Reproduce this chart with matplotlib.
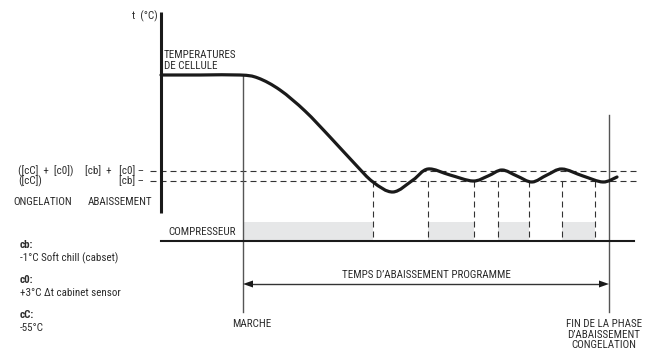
import numpy as np
import matplotlib.pyplot as plt
from matplotlib.path import Path
from matplotlib.patches import PathPatch, Rectangle

plt.rcParams['font.family'] = ['Roboto Condensed', 'DejaVu Sans']

# diagram coordinates are in pixels (x right, y down)
curve_x = [161, 200, 240, 258, 280, 305, 330, 355, 373, 393, 413, 428,
           450, 473, 488, 502, 517, 532, 547, 562, 583, 603, 617]
curve_y = [75, 75, 75, 78, 90, 111, 137, 164, 182, 192, 180, 169,
           175, 181, 176, 170, 176, 182, 175, 169, 176, 182, 177]
compressor_on = [(243, 373), (428, 474), (498, 529), (562, 595)]
switch_x = [373, 428, 474, 498, 529, 562, 595]
upper_y, lower_y = 171, 181
start_x, end_x = 243, 609

notes = [('cb:', '-1°C Soft chill (cabset)'),
         ('c0:', '+3°C \u0394t cabinet sensor'),
         ('cC:', '-55°C')]

TXT = '#2b2b2b'
FS = 7.9

fig = plt.figure(figsize=(6.55, 3.49), dpi=100)
ax = fig.add_axes([0, 0, 1, 1])
ax.set_xlim(0, 655)
ax.set_ylim(349, 0)
ax.axis('off')

# smooth curve through key points (catmull-rom -> bezier)
pts = np.column_stack([curve_x, curve_y]).astype(float)
verts = [pts[0]]
codes = [Path.MOVETO]
for i in range(len(pts) - 1):
    p0 = pts[i - 1] if i > 0 else pts[i]
    p1, p2 = pts[i], pts[i + 1]
    p3 = pts[i + 2] if i + 2 < len(pts) else pts[i + 1]
    verts += [p1 + (p2 - p0) / 6, p2 - (p3 - p1) / 6, p2]
    codes += [Path.CURVE4] * 3
ax.add_patch(PathPatch(Path(verts, codes), fill=False, lw=2.3, color='#1a1a1a', capstyle='round', zorder=5))

# compressor boxes
for a, b in compressor_on:
    ax.add_patch(Rectangle((a, 222), b - a, 18, color='#e6e7e8', lw=0, zorder=1))

# dashed set-point lines
dash = (0, (5.4, 3.6))
for y in (upper_y, lower_y):
    ax.plot([150, 636], [y, y], color='#333333', lw=0.8, linestyle=dash, zorder=2)
for x in switch_x:
    ax.plot([x, x], [lower_y, 240], color='#333333', lw=0.8, linestyle=dash, zorder=2)

# temperature axis and compressor baseline
ax.plot([161, 161], [12, 213], color='#1a1a1a', lw=2.2, solid_capstyle='butt', zorder=6)
ax.plot([161, 634], [241, 241], color='#1a1a1a', lw=1.5, zorder=6)

# start / end verticals
ax.plot([start_x, start_x], [75, 312], color='#555555', lw=1.0, zorder=3)
ax.plot([end_x, end_x], [115, 312], color='#555555', lw=1.0, zorder=3)

# programmed time arrow
ax.plot([start_x + 8, end_x - 8], [284, 284], color='#333333', lw=1.0)
for tip, sgn in ((start_x, 1), (end_x, -1)):
    ax.fill([tip, tip + sgn * 10, tip + sgn * 10], [284, 280.5, 287.5], color='#1a1a1a', lw=0, zorder=4)

# texts
ax.text(158, 16, 't  (°C)', ha='right', va='center', fontsize=FS, color=TXT)
ax.text(164, 55, 'TEMPERATURES', ha='left', va='center', fontsize=FS, color=TXT)
ax.text(164, 66, 'DE CELLULE', ha='left', va='center', fontsize=FS, color=TXT)
ax.text(18, upper_y, '([cC]  +  [c0])', ha='left', va='center', fontsize=FS, color=TXT)
ax.text(85, upper_y, '[cb]  +   [c0] \u2013', ha='left', va='center', fontsize=FS, color=TXT)
ax.text(18, lower_y, '([cC])', ha='left', va='center', fontsize=FS, color=TXT)
ax.text(144, lower_y, '[cb] \u2013', ha='right', va='center', fontsize=FS, color=TXT)
ax.text(13, 202, 'ONGELATION', ha='left', va='center', fontsize=FS, color=TXT)
ax.text(88, 202, 'ABAISSEMENT', ha='left', va='center', fontsize=FS, color=TXT)
ax.text(168, 232, 'COMPRESSEUR', ha='left', va='center', fontsize=FS, color=TXT)
ax.text(426, 275, 'TEMPS D\u2019ABAISSEMENT PROGRAMME', ha='center', va='center', fontsize=FS, color=TXT)
ax.text(252, 324, 'MARCHE', ha='center', va='center', fontsize=FS, color=TXT)
ax.text(604, 324, 'FIN DE LA PHASE', ha='center', va='center', fontsize=FS, color=TXT)
ax.text(604, 335, 'D\u2019ABAISSEMENT', ha='center', va='center', fontsize=FS, color=TXT)
ax.text(604, 345, 'CONGELATION', ha='center', va='center', fontsize=FS, color=TXT)

for i, (key, desc) in enumerate(notes):
    y0 = 245 + i * 35
    ax.text(20, y0, key, ha='left', va='center', fontsize=FS, fontweight='bold', color=TXT)
    ax.text(20, y0 + 13, desc, ha='left', va='center', fontsize=FS, color=TXT)

fig.savefig('out.png', dpi=100)
